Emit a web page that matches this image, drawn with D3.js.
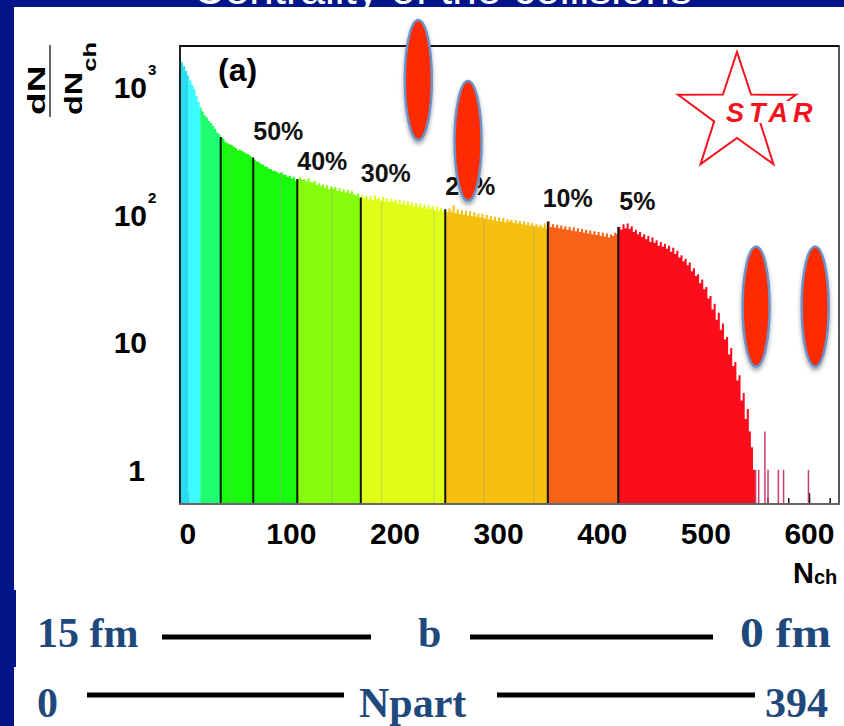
<!DOCTYPE html>
<html>
<head>
<meta charset="utf-8">
<script src="https://cdn.jsdelivr.net/npm/d3@7"></script>
<style>
body { margin: 0; background: #fff; }
svg { display: block; }
</style>
</head>
<body>
<div id="wrap"></div>
<script>
// histogram, 2 Nch per bin starting at -8
var binStart = -8;
var binWidth = 2;
var counts = [
    // -8 .. 100
    1700, 1560, 1450, 1330, 1230, 1120, 1040, 960, 850, 760,
    690, 640, 600, 575, 540, 520, 495, 470, 440, 425,
    405, 392, 370, 362, 355, 350, 340, 332, 318, 322,
    315, 308, 300, 296, 288, 280, 268, 262, 258, 250,
    246, 238, 236, 228, 226, 219, 220, 214, 210, 214,
    206, 204, 198, 201,
    // 100 .. 250
    192, 196, 184, 190, 196, 186, 190, 182, 192, 180,
    178, 184, 170, 176, 168, 172, 163, 170, 158, 166,
    160, 164, 153, 161, 150, 158, 149, 155, 146, 152,
    144, 141, 146, 136, 142, 134, 140, 131, 139, 130,
    142, 132, 136, 128, 137, 127, 134, 125, 133, 126,
    131, 122, 130, 121, 128, 119, 127, 118, 125, 116,
    123, 114, 122, 113, 120, 111, 118, 112, 116, 108,
    115, 107, 113, 106, 110,
    // 250 .. 416
    104, 112, 105, 118, 103, 110, 101, 108, 100, 107,
    98, 106, 97, 104, 96, 102, 95, 101, 93, 99,
    92, 97, 90, 96, 89, 95, 88, 94, 87, 92,
    88, 91, 86, 90, 85, 89, 84, 88, 83, 87,
    82, 86, 81, 84, 80, 83, 79, 85, 78, 88,
    80, 84, 79, 83, 78, 82, 77, 81, 76, 80,
    75, 79, 74, 78, 73, 77, 72, 76, 71, 75,
    70, 74, 69, 73, 68, 72, 67, 71, 66, 70,
    68, 72, 70,
    // 416 .. 548
    80, 76, 84, 78, 85, 77, 81, 73, 76, 70,
    73, 67, 70, 64, 68, 61, 66, 60, 63, 57,
    61, 56, 59, 54, 57, 51, 55, 49, 52, 46,
    48, 43, 45, 40, 42, 36, 38, 33, 34, 29,
    31, 26, 27, 22, 23, 18, 20, 15, 17, 12.5,
    14, 10.5, 11, 8, 9, 6.5, 7, 5, 5.5, 3.5,
    4, 2.5, 3, 2, 1.5, 1
];
// sparse single bins in the far tail
var tailNch = [548, 551, 557, 560, 570, 575, 599];
var tailCounts = [1, 1, 2, 1, 1, 1, 1];

// centrality classes
var bandEdges = [-8, 1.4, 12.5, 32.3, 106.2, 167.5, 249, 348, 416, 640];
var bandColors = ["#27dcec", "#3cfcff", "#1ffd70", "#18fb0c", "#86fd0a", "#e0fe18", "#f6c00f", "#f86118", "#fc0d1c"];
var cutLines = [32.3, 63.7, 106.2, 167.5, 249, 348, 416];
var subLines = [42, 90, 139.5, 187.7, 238, 286.5, 334.8];
var cutLabels = ["50%", "40%", "30%", "20%", "10%", "5%"];
var cutLabelAt = [63.7, 106.2, 167.5, 249, 343, 417];
var cutLabelLevel = [384, 223, 180, 142, 115, 109];

var xTicks = [0, 100, 200, 300, 400, 500, 600];
var yTicks = [1, 10, 100, 1000];
var yTickBase = ["1", "10", "10", "10"];
var yTickExp = ["", "", "2", "3"];

// nuclei drawn over the plot (Nch, dN/dNch)
var nucleiN = [223, 271, 549, 606];
var nucleiV = [1133, 377, 19, 19];

var blue = "#021689";
var W = 844, H = 726;
var sans = "'Liberation Sans', Arial, Helvetica, sans-serif";
var serif = "'Liberation Serif', 'Times New Roman', serif";

var svg = d3.select("#wrap").append("svg").attr("width", W).attr("height", H);

var defs = svg.append("defs");
var shadow = defs.append("filter").attr("id", "shadow")
    .attr("x", "-50%").attr("y", "-20%").attr("width", "200%").attr("height", "140%");
shadow.append("feDropShadow").attr("dx", 0).attr("dy", 3).attr("stdDeviation", 2)
    .attr("flood-color", "#000").attr("flood-opacity", 0.35);

// slide
svg.append("rect").attr("width", W).attr("height", H).attr("fill", "#fff");
svg.append("rect").attr("width", W).attr("height", 7).attr("fill", blue);
svg.append("text").attr("x", 193).attr("y", 3.5)
    .attr("font-family", sans).attr("font-size", 44).attr("fill", "#fff")
    .text("Centrality of the collisions");
svg.append("rect").attr("y", 7).attr("width", W).attr("height", 2).attr("fill", "#fff");
svg.append("rect").attr("width", 14).attr("height", H).attr("fill", blue);
svg.append("rect").attr("y", 590).attr("width", 16).attr("height", 77).attr("fill", blue);

// scales
var x = d3.scaleLinear().domain([-7, 629]).range([180, 839]);
var y = d3.scaleLog().domain([0.54, 2090]).range([504, 46]);
var yBot = y.range()[0];

defs.append("clipPath").attr("id", "frameClip").append("rect")
    .attr("x", x.range()[0]).attr("y", y.range()[1])
    .attr("width", x.range()[1] - x.range()[0]).attr("height", yBot - y.range()[1]);

var bins = counts.map(function(c, i) {
    return { x0: binStart + i * binWidth, x1: binStart + (i + 1) * binWidth, n: c };
});
var countAt = function(n) {
    return counts[Math.floor((n - binStart) / binWidth)];
};

var path = "M" + x(bins[0].x0) + "," + yBot;
bins.forEach(function(b) {
    path += "V" + y(b.n) + "H" + x(b.x1);
});
path += "V" + yBot + "Z";
defs.append("clipPath").attr("id", "histClip").append("path").attr("d", path);

// axis ticks sit under the histogram
var minor = d3.axisBottom(x).tickValues(d3.range(0, 621, 20)).tickSize(-6).tickFormat("");
var gMinor = svg.append("g").attr("transform", "translate(0," + yBot + ")").call(minor);
gMinor.select(".domain").remove();
gMinor.selectAll("line").attr("stroke", "#111").attr("stroke-width", 1.5);

var major = d3.axisBottom(x).tickValues(xTicks).tickSize(-11).tickPadding(19).tickFormat(d3.format("d"));
var gMajor = svg.append("g").attr("transform", "translate(0," + yBot + ")").call(major);
gMajor.select(".domain").remove();
gMajor.selectAll("line").attr("stroke", "#111").attr("stroke-width", 1.5);
gMajor.selectAll("text").attr("font-family", sans).attr("font-size", 30)
    .attr("font-weight", "bold").attr("fill", "#000");

var plot = svg.append("g").attr("clip-path", "url(#frameClip)");
var hist = plot.append("g").attr("clip-path", "url(#histClip)");

hist.selectAll("rect.band")
    .data(bandColors)
    .enter()
    .append("rect")
    .attr("class", "band")
    .attr("x", function(d, i) { return x(bandEdges[i]); })
    .attr("width", function(d, i) { return x(bandEdges[i + 1]) - x(bandEdges[i]); })
    .attr("y", y.range()[1])
    .attr("height", yBot - y.range()[1])
    .attr("fill", function(d) { return d; });

plot.selectAll("line.sub")
    .data(subLines)
    .enter()
    .append("line")
    .attr("class", "sub")
    .attr("x1", function(d) { return x(d); })
    .attr("x2", function(d) { return x(d); })
    .attr("y1", yBot)
    .attr("y2", function(d) { return y(countAt(d)); })
    .attr("stroke", "#9a9a9a")
    .attr("stroke-opacity", 0.45)
    .attr("stroke-width", 1);

plot.selectAll("line.cut")
    .data(cutLines)
    .enter()
    .append("line")
    .attr("class", "cut")
    .attr("x1", function(d) { return x(d); })
    .attr("x2", function(d) { return x(d); })
    .attr("y1", yBot)
    .attr("y2", function(d) { return y(countAt(d)); })
    .attr("stroke", "#111")
    .attr("stroke-width", 2);

plot.selectAll("line.tail")
    .data(tailNch)
    .enter()
    .append("line")
    .attr("class", "tail")
    .attr("x1", function(d) { return x(d + 0.5); })
    .attr("x2", function(d) { return x(d + 0.5); })
    .attr("y1", yBot)
    .attr("y2", function(d, i) { return y(tailCounts[i]); })
    .attr("stroke", "#cc3d6b")
    .attr("stroke-width", 1.5);

// frame
var frame = svg.append("g").attr("fill", "none");
frame.append("line").attr("x1", 180).attr("x2", 839).attr("y1", 46).attr("y2", 46)
    .attr("stroke", "#111").attr("stroke-width", 2);
frame.append("line").attr("x1", 180).attr("x2", 180).attr("y1", 45).attr("y2", 505)
    .attr("stroke", "#222").attr("stroke-width", 2);
frame.append("line").attr("x1", 839).attr("x2", 839).attr("y1", 45).attr("y2", 505)
    .attr("stroke", "#222").attr("stroke-width", 1.5);
frame.append("line").attr("x1", 179).attr("x2", 840).attr("y1", 504).attr("y2", 504)
    .attr("stroke", "#666").attr("stroke-width", 2);

// y tick labels
var yl = svg.append("g").attr("font-family", sans).attr("font-weight", "bold").attr("fill", "#000");
yl.selectAll("text.base")
    .data(yTicks)
    .enter()
    .append("text")
    .attr("class", "base")
    .attr("x", function(d, i) { return i === 0 ? 145 : 147; })
    .attr("y", function(d) { return y(d) + 11; })
    .attr("text-anchor", "end")
    .attr("font-size", 30)
    .text(function(d, i) { return yTickBase[i]; });
yl.selectAll("text.exp")
    .data(yTicks)
    .enter()
    .append("text")
    .attr("class", "exp")
    .attr("x", 148)
    .attr("y", function(d) { return y(d) - 12; })
    .attr("font-size", 15)
    .text(function(d, i) { return yTickExp[i]; });

// y title dN / dNch
var yt = svg.append("g").attr("font-family", sans).attr("font-weight", "bold").attr("fill", "#000");
yt.append("text").attr("transform", "translate(45,115) rotate(-90) scale(1.55,1)")
    .attr("font-size", 24).text("dN");
var den = yt.append("text").attr("transform", "translate(82,115) rotate(-90) scale(1.35,1)")
    .attr("font-size", 24);
den.append("tspan").text("dN");
den.append("tspan").attr("font-size", 19).attr("dy", 14).text("ch");
yt.append("line").attr("x1", 50).attr("x2", 50).attr("y1", 45).attr("y2", 117)
    .attr("stroke", "#333").attr("stroke-width", 1.5);

// x title
var xt = svg.append("text").attr("x", 793).attr("y", 583)
    .attr("font-family", sans).attr("font-weight", "bold").attr("font-size", 29).attr("fill", "#000");
xt.append("tspan").text("N");
xt.append("tspan").attr("font-size", 20).attr("dy", 1).text("ch");

// panel tag and class labels
svg.append("text").attr("x", 218).attr("y", 81)
    .attr("font-family", sans).attr("font-weight", "bold").attr("font-size", 32).text("(a)");

svg.selectAll("text.cut")
    .data(cutLabels)
    .enter()
    .append("text")
    .attr("class", "cut")
    .attr("x", function(d, i) { return x(cutLabelAt[i]); })
    .attr("y", function(d, i) { return y(cutLabelLevel[i]); })
    .attr("font-family", sans)
    .attr("font-weight", "bold")
    .attr("font-size", 25)
    .attr("fill", "#111")
    .text(function(d) { return d; });

// STAR logo
var logo = svg.append("g").attr("transform", "translate(737,114)");
var star = d3.range(10).map(function(k) {
    var r = k % 2 === 0 ? 62 : 24;
    var a = -Math.PI / 2 + k * Math.PI / 5;
    return [r * Math.cos(a), r * Math.sin(a)];
});
logo.append("polygon").attr("points", star.map(function(p) { return p.join(","); }).join(" "))
    .attr("fill", "none").attr("stroke", "#f5141e").attr("stroke-width", 2);
logo.append("rect").attr("x", -12).attr("y", -13).attr("width", 86).attr("height", 22).attr("fill", "#fff");
logo.append("text").attr("x", -11).attr("y", 8)
    .attr("font-family", sans).attr("font-weight", "bold").attr("font-style", "italic")
    .attr("font-size", 27).attr("letter-spacing", 5).attr("fill", "#f0141e").text("STAR");

// nuclei
svg.selectAll("ellipse.nucleus")
    .data(nucleiN)
    .enter()
    .append("ellipse")
    .attr("class", "nucleus")
    .attr("cx", function(d) { return x(d); })
    .attr("cy", function(d, i) { return y(nucleiV[i]); })
    .attr("rx", 13.5)
    .attr("ry", 60)
    .attr("fill", "#ff2a00")
    .attr("stroke", "#6a93c8")
    .attr("stroke-width", 2.5)
    .attr("filter", "url(#shadow)");

// impact parameter / Npart rows
var rows = svg.append("g").attr("font-family", serif).attr("font-weight", "bold")
    .attr("font-size", 42).attr("fill", "#1f497d");
rows.append("text").attr("x", 37).attr("y", 647).text("15 fm");
rows.append("text").attr("x", 418).attr("y", 647).text("b");
rows.append("text").attr("x", 740).attr("y", 647)
    .attr("textLength", 91).attr("lengthAdjust", "spacingAndGlyphs").text("0 fm");
rows.append("text").attr("x", 37).attr("y", 717).text("0");
rows.append("text").attr("x", 359).attr("y", 717).text("Npart");
rows.append("text").attr("x", 765).attr("y", 717).text("394");

var bars = svg.append("g").attr("stroke", "#000").attr("stroke-width", 5);
bars.append("line").attr("x1", 162).attr("x2", 371).attr("y1", 637).attr("y2", 637);
bars.append("line").attr("x1", 470).attr("x2", 713).attr("y1", 637).attr("y2", 637);
bars.append("line").attr("x1", 87).attr("x2", 344).attr("y1", 695).attr("y2", 695);
bars.append("line").attr("x1", 497).attr("x2", 755).attr("y1", 695).attr("y2", 695);
</script>
</body>
</html>
